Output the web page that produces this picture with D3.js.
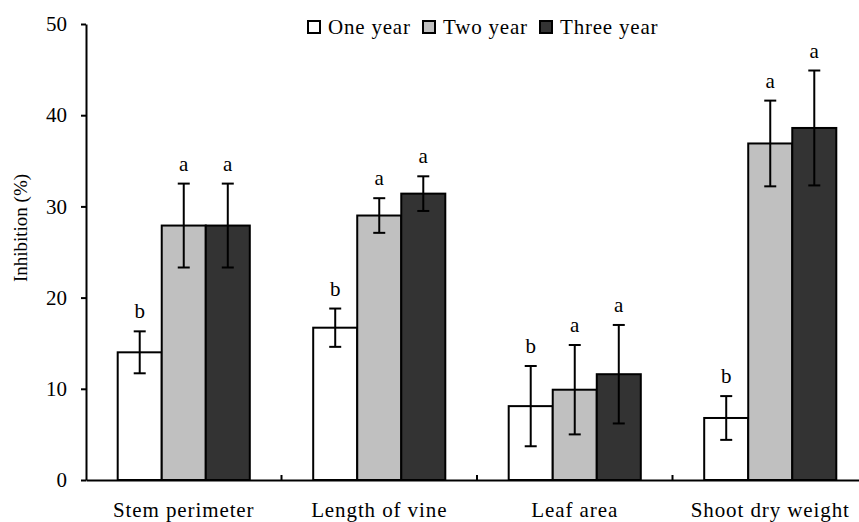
<!DOCTYPE html>
<html>
<head>
<meta charset="utf-8">
<script src="https://cdn.jsdelivr.net/npm/d3@7"></script>
<style>
  body { margin: 0; background: #fff; }
  svg text { font-family: "Liberation Serif", "Times New Roman", serif; fill: #000; }
</style>
</head>
<body>
<div id="canvas"></div>
<script>
const categories = ["Stem perimeter", "Length of vine", "Leaf area", "Shoot dry weight"];
const seriesNames = ["One year", "Two year", "Three year"];
const seriesColors = ["#ffffff", "#c0c0c0", "#333333"];

const oneYear = [14.0, 16.7, 8.1, 6.8];
const twoYear = [27.9, 29.0, 9.9, 36.9];
const threeYear = [27.9, 31.4, 11.6, 38.6];

const oneYearErr = [2.3, 2.1, 4.4, 2.4];
const twoYearErr = [4.6, 1.9, 4.9, 4.7];
const threeYearErr = [4.6, 1.9, 5.4, 6.3];

const oneYearLetters = ["b", "b", "b", "b"];
const twoYearLetters = ["a", "a", "a", "a"];
const threeYearLetters = ["a", "a", "a", "a"];

const yTicks = [0, 10, 20, 30, 40, 50];

const values = [oneYear, twoYear, threeYear];
const errors = [oneYearErr, twoYearErr, threeYearErr];
const letters = [oneYearLetters, twoYearLetters, threeYearLetters];

const rows = [];
categories.forEach((c, i) => {
  seriesNames.forEach((s, j) => {
    rows.push({ cat: c, series: s, value: values[j][i], err: errors[j][i], letter: letters[j][i], color: seriesColors[j] });
  });
});

const width = 859;
const height = 522;

const svg = d3.select("#canvas").append("svg")
  .attr("width", width)
  .attr("height", height);

const y = d3.scaleLinear().domain([0, 50]).range([480, 24]);
const x = d3.scaleBand().domain(categories).range([86, 868]);
const x1 = d3.scaleBand().domain(seriesNames).range([0, x.bandwidth()]).paddingOuter(0.72);

// bars
svg.append("g").selectAll("rect").data(rows).enter().append("rect")
  .attr("x", d => x(d.cat) + x1(d.series))
  .attr("y", d => y(d.value))
  .attr("width", x1.bandwidth())
  .attr("height", d => y(0) - y(d.value))
  .attr("fill", d => d.color)
  .attr("stroke", "#000")
  .attr("stroke-width", 2);

// error bars
const eb = svg.append("g").attr("stroke", "#000").attr("stroke-width", 2);
const cx = d => x(d.cat) + x1(d.series) + x1.bandwidth() / 2;
eb.selectAll("line.v").data(rows).enter().append("line")
  .attr("x1", cx).attr("x2", cx)
  .attr("y1", d => y(d.value - d.err)).attr("y2", d => y(d.value + d.err));
eb.selectAll("line.t").data(rows).enter().append("line")
  .attr("x1", d => cx(d) - 6).attr("x2", d => cx(d) + 6)
  .attr("y1", d => y(d.value + d.err)).attr("y2", d => y(d.value + d.err));
eb.selectAll("line.b").data(rows).enter().append("line")
  .attr("x1", d => cx(d) - 6).attr("x2", d => cx(d) + 6)
  .attr("y1", d => y(d.value - d.err)).attr("y2", d => y(d.value - d.err));

// significance letters
svg.append("g").selectAll("text").data(rows).enter().append("text")
  .attr("x", cx)
  .attr("y", d => y(d.value + d.err) - 13)
  .attr("text-anchor", "middle")
  .style("font-size", "21px")
  .text(d => d.letter);

// y axis
const yAxis = svg.append("g")
  .attr("transform", "translate(86,0)")
  .call(d3.axisLeft(y).tickValues(yTicks).tickSize(5).tickSizeOuter(0).tickPadding(14));
yAxis.selectAll("path, line").attr("stroke", "#000").attr("stroke-width", 2);
yAxis.selectAll("text").style("font-size", "21px").style("font-family", "Liberation Serif");

// x axis
const xAxis = svg.append("g")
  .attr("transform", "translate(0,480)")
  .call(d3.axisBottom(x).tickSize(0).tickSizeOuter(0).tickPadding(22));
xAxis.select("path").attr("stroke", "#000").attr("stroke-width", 2);
xAxis.selectAll("text")
  .style("font-size", "21px")
  .style("font-family", "Liberation Serif")
  .style("letter-spacing", "0.9px");

// category separator ticks
svg.append("g").selectAll("line").data(categories.slice(1)).enter().append("line")
  .attr("x1", d => x(d)).attr("x2", d => x(d))
  .attr("y1", 480).attr("y2", 475)
  .attr("stroke", "#000").attr("stroke-width", 2);

// y label
svg.append("text")
  .attr("transform", "translate(27,228) rotate(-90)")
  .attr("text-anchor", "middle")
  .style("font-size", "19px")
  .text("Inhibition (%)");

// legend
const legendX = [308, 423, 540];
const legend = svg.append("g");
seriesNames.forEach((s, i) => {
  legend.append("rect")
    .attr("x", legendX[i]).attr("y", 21)
    .attr("width", 12).attr("height", 12)
    .attr("fill", seriesColors[i])
    .attr("stroke", "#000").attr("stroke-width", 2);
  legend.append("text")
    .attr("x", legendX[i] + 20).attr("y", 34)
    .style("font-size", "21px")
    .style("letter-spacing", "0.8px")
    .text(s);
});
</script>
</body>
</html>
